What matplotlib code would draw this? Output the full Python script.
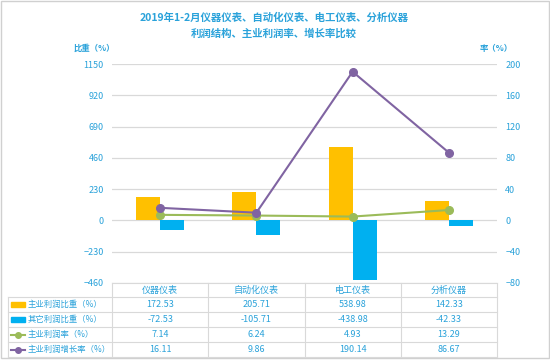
import matplotlib.pyplot as plt
import numpy as np
from matplotlib.patches import Rectangle
from matplotlib.lines import Line2D

plt.rcParams['font.family'] = ['Noto Sans CJK SC', 'DejaVu Sans']

# data
categories = ['仪器仪表', '自动化仪表', '电工仪表', '分析仪器']
main_share = [172.53, 205.71, 538.98, 142.33]
other_share = [-72.53, -105.71, -438.98, -42.33]
main_rate = [7.14, 6.24, 4.93, 13.29]
main_growth = [16.11, 9.86, 190.14, 86.67]
series_names = ['主业利润比重（%）', '其它利润比重（%）', '主业利润率（%）', '主业利润增长率（%）']

left_ticks = [-460, -230, 0, 230, 460, 690, 920, 1150]
right_ticks = [-80, -40, 0, 40, 80, 120, 160, 200]

c_orange = '#FFC000'
c_blue = '#00B0F0'
c_green = '#9BBB59'
c_purple = '#8064A2'
c_text = '#2AA2DA'
c_grid = '#D9D9D9'

W, H = 550, 360
fig = plt.figure(figsize=(5.5, 3.6), dpi=100)

def fx(px):
    return px / W

def fy(py):
    return 1 - py / H

# plot area
x0, x1, ytop, ybot = 112, 497, 64, 283
ax = fig.add_axes([fx(x0), fy(ybot), fx(x1) - fx(x0), fy(ytop) - fy(ybot)])
ax2 = ax.twinx()

x = np.arange(len(categories))
bw = 0.25
ax.bar(x - bw / 2, main_share, bw, color=c_orange, zorder=3)
ax.bar(x + bw / 2, other_share, bw, color=c_blue, zorder=3)
ax.set_xlim(-0.5, len(categories) - 0.5)
ax.set_ylim(-460, 1150)
ax.set_yticks(left_ticks)
ax.set_xticks([])
ax.grid(axis='y', color=c_grid, lw=0.9, zorder=0)
ax.tick_params(axis='y', length=0, labelsize=6.5, labelcolor=c_text, pad=6)

ax2.plot(x, main_rate, color=c_green, lw=1.5, marker='o', ms=5.5, zorder=4)
ax2.plot(x, main_growth, color=c_purple, lw=1.5, marker='o', ms=5.5, zorder=5)
ax2.set_ylim(-80, 200)
ax2.set_yticks(right_ticks)
ax2.tick_params(axis='y', length=0, labelsize=6.5, labelcolor=c_text, pad=6)
ax2.set_zorder(ax.get_zorder() + 1)
ax2.patch.set_visible(False)

for a in (ax, ax2):
    for s in a.spines.values():
        s.set_visible(False)

# titles
fig.text(fx(274), fy(18), '2019年1-2月仪器仪表、自动化仪表、电工仪表、分析仪器',
         ha='center', va='center', fontsize=7.5, fontweight='bold', color=c_text)
fig.text(fx(274), fy(34), '利润结构、主业利润率、增长率比较',
         ha='center', va='center', fontsize=7.5, fontweight='bold', color=c_text)
fig.text(fx(94), fy(48), '比重（%）', ha='center', va='center', fontsize=6,
         fontweight='bold', color=c_text)
fig.text(fx(496), fy(48), '率（%）', ha='center', va='center', fontsize=6,
         fontweight='bold', color=c_text)

# data table
col_edges = np.linspace(x0, x1, len(categories) + 1)
row_edges = [283, 297, 312, 327, 342, 357]
tab_left = 8

def hline(y, xa, xb):
    fig.add_artist(Line2D([fx(xa), fx(xb)], [fy(y), fy(y)], color=c_grid, lw=0.8))

def vline(xp, ya, yb):
    fig.add_artist(Line2D([fx(xp), fx(xp)], [fy(ya), fy(yb)], color=c_grid, lw=0.8))

hline(row_edges[0], x0, x1)
for r in row_edges[1:]:
    hline(r, tab_left, x1)
for c in col_edges:
    vline(c, row_edges[0], row_edges[-1])
vline(tab_left, row_edges[1], row_edges[-1])

for i, name in enumerate(categories):
    cx = (col_edges[i] + col_edges[i + 1]) / 2
    fig.text(fx(cx), fy((row_edges[0] + row_edges[1]) / 2), name,
             ha='center', va='center', fontsize=6.5, color=c_text)

table_rows = [main_share, other_share, main_rate, main_growth]
for r, vals in enumerate(table_rows):
    cy = (row_edges[r + 1] + row_edges[r + 2]) / 2
    for i, v in enumerate(vals):
        cx = (col_edges[i] + col_edges[i + 1]) / 2
        fig.text(fx(cx), fy(cy), f'{v:.2f}', ha='center', va='center',
                 fontsize=6.5, color=c_text)
    fig.text(fx(28), fy(cy), series_names[r], ha='left', va='center',
             fontsize=6, color=c_text)

# legend keys
keys = [('bar', c_orange), ('bar', c_blue), ('line', c_green), ('line', c_purple)]
for r, (kind, col) in enumerate(keys):
    cy = (row_edges[r + 1] + row_edges[r + 2]) / 2
    if kind == 'bar':
        fig.add_artist(Rectangle((fx(11), fy(cy + 2.5)), fx(14), 5 / H, color=col))
    else:
        fig.add_artist(Line2D([fx(11), fx(25)], [fy(cy), fy(cy)], color=col, lw=1.5))
        fig.add_artist(Line2D([fx(18)], [fy(cy)], color=col, marker='o', ms=4))

# outer frame
fig.add_artist(Rectangle((fx(1), fy(358)), fx(548), 357 / H, fill=False,
                         ec='#D0D0D0', lw=1.0))

fig.savefig('out.png', dpi=100)
